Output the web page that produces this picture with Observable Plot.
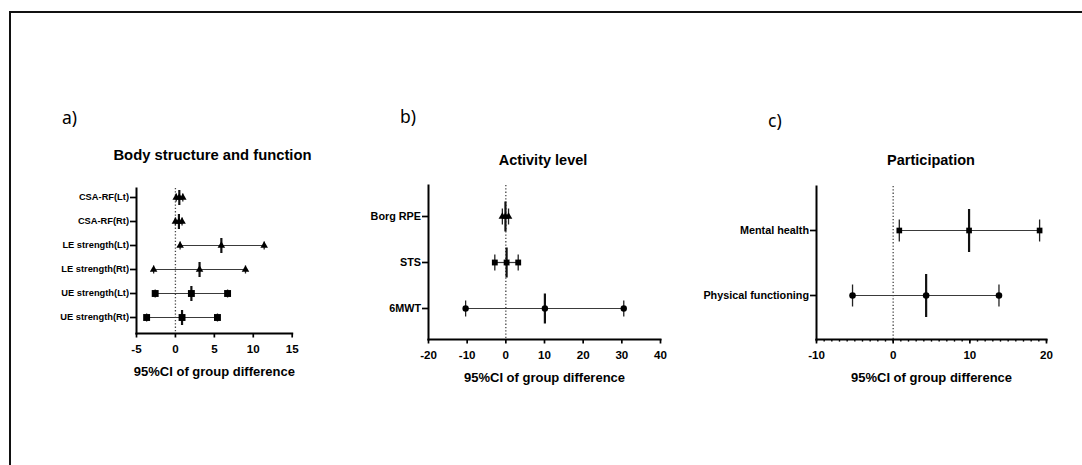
<!DOCTYPE html>
<html><head><meta charset="utf-8">
<script src="https://cdn.jsdelivr.net/npm/d3@7"></script>
<script src="https://cdn.jsdelivr.net/npm/@observablehq/plot@0.6"></script>
<style>
html,body{margin:0;padding:0;background:#fff;}
#page{position:relative;width:1082px;height:465px;overflow:hidden;background:#fff;}
.panel{position:absolute;}
#overlay{position:absolute;left:0;top:0;pointer-events:none;}
</style></head><body><div id="page"></div>
<script>
// ---------- data ----------
const axisTitle = "95%CI of group difference";
const zeroRef = [0];

// a) Body structure and function
const bodyTitle = "Body structure and function";
const bodyLabels = ["CSA-RF(Lt)", "CSA-RF(Rt)", "LE strength(Lt)", "LE strength(Rt)", "UE strength(Lt)", "UE strength(Rt)"];
const bodyLower = [0.1, 0.0, 0.6, -2.8, -2.6, -3.7];
const bodyMean  = [0.5, 0.45, 5.9, 3.1, 2.05, 0.85];
const bodyUpper = [0.95, 0.85, 11.4, 9.0, 6.7, 5.4];
const bodyTicks = [-5, 0, 5, 10, 15];

// b) Activity level
const actTitle = "Activity level";
const actLabels = ["Borg RPE", "STS", "6MWT"];
const actLower = [-0.9, -2.85, -10.4];
const actMean  = [-0.1, 0.2, 10.1];
const actUpper = [0.7, 3.2, 30.5];
const actTicks = [-20, -10, 0, 10, 20, 30, 40];

// c) Participation
const partTitle = "Participation";
const partLabels = ["Mental health", "Physical functioning"];
const partLower = [0.8, -5.3];
const partMean  = [9.9, 4.3];
const partUpper = [19.1, 13.8];
const partTicks = [-10, 0, 10, 20];
const partMinorStep = 1;

// ---------- drawing ----------
const page = document.getElementById("page");
const vline = {draw(ctx, size) { const h = Math.sqrt(size / Math.PI); ctx.moveTo(0, -h); ctx.lineTo(0, h); }};

function panel(o) {
  const rows = o.labels.map((label, i) => ({label, lower: o.lower[i], mean: o.mean[i], upper: o.upper[i], marker: o.markers[i]}));
  const ends = rows.flatMap(r => [{label: r.label, x: r.lower, marker: r.marker}, {label: r.label, x: r.upper, marker: r.marker}]);
  const means = rows.map(r => ({label: r.label, x: r.mean, marker: r.marker}));
  const all = ends.concat(means);
  const markerTypes = Array.from(new Set(o.markers));
  const marks = [
    Plot.ruleX(zeroRef, {stroke: "#444", strokeWidth: 1.3, strokeDasharray: "1.3,2"}),
    Plot.ruleY(rows, {y: "label", x1: "lower", x2: "upper", stroke: "#3a3a3a", strokeWidth: 1.2}),
    Plot.dot(ends, {x: "x", y: "label", symbol: vline, r: o.endWhisker, stroke: "#222", strokeWidth: 1.3, fill: "none"}),
    Plot.dot(means, {x: "x", y: "label", symbol: vline, r: o.meanWhisker, stroke: "#111", strokeWidth: 2.2, fill: "none"}),
    ...markerTypes.map(m => Plot.dot(all.filter(d => d.marker === m), {x: "x", y: "label", symbol: m, r: o.markerR[m], fill: "#000", stroke: "none"})),
    Plot.frame({anchor: "left", strokeWidth: 2, stroke: "#000"}),
    Plot.frame({anchor: "bottom", strokeWidth: 2, stroke: "#000"}),
    Plot.axisY({tickSize: 6, tickPadding: 1.5, fontSize: o.yFont, fontWeight: "bold", strokeWidth: 1.7, label: null}),
    Plot.axisX({ticks: o.ticks, tickSize: 4.5, tickPadding: 7, fontSize: 11.6, fontWeight: "bold", strokeWidth: 1.7, label: null, tickFormat: d => String(d).replace("−", "-")}),
  ];
  if (o.minorTicks) marks.push(Plot.axisX({ticks: o.minorTicks, tickSize: 2.6, text: null, strokeWidth: 1.4, label: null}));
  marks.push(Plot.text([axisTitle], {frameAnchor: "bottom", dy: o.titleDy, lineAnchor: "top", fontSize: 13, fontWeight: "bold", fill: "#000"}));
  const svg = Plot.plot({
    width: o.width, height: o.height,
    marginLeft: o.marginLeft, marginRight: o.marginRight, marginTop: o.marginTop, marginBottom: o.marginBottom,
    style: {background: "transparent", fontFamily: "'Liberation Sans', Arial, sans-serif", overflow: "visible", color: "#000"},
    x: {domain: [o.ticks[0], o.ticks[o.ticks.length - 1]], label: null},
    y: {type: "point", domain: o.labels, padding: 0, insetTop: o.insetTop, insetBottom: o.insetBottom, label: null},
    marks
  });
  const wrap = document.createElement("div");
  wrap.className = "panel";
  wrap.style.left = o.left + "px";
  wrap.style.top = o.top + "px";
  wrap.appendChild(svg);
  page.appendChild(wrap);
}

panel({labels: bodyLabels, lower: bodyLower, mean: bodyMean, upper: bodyUpper,
  markers: ["triangle", "triangle", "triangle", "triangle", "square", "square"],
  markerR: {triangle: 2.8, square: 3.9}, meanWhisker: 7.5, endWhisker: 4, yFont: 9.3,
  ticks: bodyTicks, left: 20, top: 180, width: 290, height: 213,
  marginLeft: 116, marginRight: 18.3, marginTop: 8, marginBottom: 60, insetTop: 9, insetBottom: 16, titleDy: 33.5});

panel({labels: actLabels, lower: actLower, mean: actMean, upper: actUpper,
  markers: ["triangle", "square", "circle"],
  markerR: {triangle: 2.8, square: 3.3, circle: 3.2}, meanWhisker: 15, endWhisker: 8, yFont: 10.8,
  ticks: actTicks, left: 330, top: 177, width: 350, height: 222,
  marginLeft: 98, marginRight: 20, marginTop: 8, marginBottom: 60, insetTop: 31, insetBottom: 31, titleDy: 33});

panel({labels: partLabels, lower: partLower, mean: partMean, upper: partUpper,
  markers: ["square", "circle"],
  markerR: {square: 3.2, circle: 3.3}, meanWhisker: 21.5, endWhisker: 11, yFont: 10.8,
  ticks: partTicks, minorTicks: d3.range(partTicks[0], partTicks[partTicks.length - 1] + partMinorStep, partMinorStep),
  left: 680, top: 178, width: 390, height: 221,
  marginLeft: 136, marginRight: 24, marginTop: 8, marginBottom: 60, insetTop: 44, insetBottom: 44, titleDy: 33.5});

// overlay: border, panel letters, titles
const ns = "http://www.w3.org/2000/svg";
const ov = document.createElementNS(ns, "svg");
ov.setAttribute("id", "overlay");
ov.setAttribute("width", 1082); ov.setAttribute("height", 465);
const border = document.createElementNS(ns, "path");
border.setAttribute("d", "M10,470V12H1090");
border.setAttribute("fill", "none"); border.setAttribute("stroke", "#111"); border.setAttribute("stroke-width", 2);
ov.appendChild(border);
function addText(str, x, y, anchor, size, weight, family) {
  const t = document.createElementNS(ns, "text");
  t.setAttribute("x", x); t.setAttribute("y", y);
  t.setAttribute("text-anchor", anchor);
  t.setAttribute("font-size", size); t.setAttribute("font-weight", weight);
  t.setAttribute("font-family", family);
  t.setAttribute("fill", "#000");
  t.textContent = str;
  ov.appendChild(t);
}
const letterFont = "'Noto Sans', 'Open Sans', sans-serif";
const titleFont = "'Liberation Sans', Arial, sans-serif";
addText("a)", 62, 124, "start", 17.5, "normal", letterFont);
addText("b)", 400, 123, "start", 17.5, "normal", letterFont);
addText("c)", 768, 127, "start", 17.5, "normal", letterFont);
addText(bodyTitle, 212.5, 160, "middle", 14.8, "bold", titleFont);
addText(actTitle, 543, 164.5, "middle", 14.5, "bold", titleFont);
addText(partTitle, 931, 164.5, "middle", 14.5, "bold", titleFont);
page.appendChild(ov);
</script></body></html>
